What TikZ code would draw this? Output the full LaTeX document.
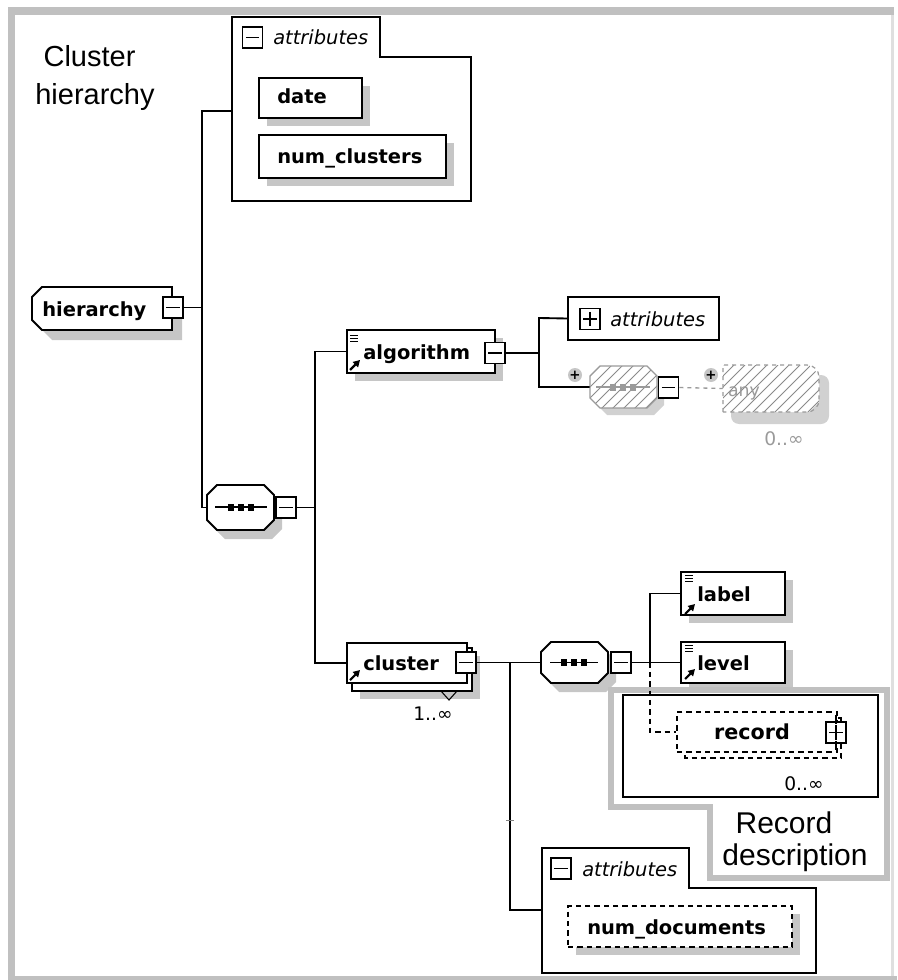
\documentclass[tikz,border=0pt]{standalone}
\usepackage{fontspec}
\setmainfont{DejaVu Sans}
\newfontfamily\arialf{Liberation Sans}
\usetikzlibrary{shadows,arrows.meta}
\definecolor{framegray}{HTML}{C0C0C0}
\definecolor{shadowgray}{HTML}{C6C6C6}
\definecolor{hatchgray}{HTML}{8A8A8A}
\definecolor{fadegray}{HTML}{9A9A9A}
\newcommand\seqicon[4]{%
  \draw[#4, line width=1pt] (#1,#3) -- (#2,#3);
  \foreach \q in {-10,0,10} \fill[#4] ({(#1+#2)/2+\q-3},{#3-3.5}) rectangle ++(6,7);}
\newcommand\eqlines[2]{\foreach \q in {0,3,6} \draw[line width=0.7pt] (#1,{#2+\q}) -- ++(8,0);}
\newcommand\refarrow[2]{\draw[line width=1.6pt,-{Triangle[length=5pt,width=5.5pt]}] (#1,#2) -- ++(10,-10);}
% octagon (chamfered) outline: x1 x2 y1 y2 options
\newcommand\octo[5]{\path[#5] ({#1+10},#3) -- ({#2-10},#3) -- (#2,{#3+10}) -- (#2,{#4-10}) -- ({#2-10},#4) -- ({#1+10},#4) -- (#1,{#4-10}) -- (#1,{#3+10}) -- cycle;}
\tikzset{
  conn/.style={line width=1.4pt},
  box/.style={draw, line width=1.4pt, fill=white, inner sep=0pt},
  shad/.style={drop shadow={shadow xshift=6pt, shadow yshift=-6pt, fill=shadowgray, opacity=1}},
  anchorbox/.style={inner sep=0pt},
  mbox/.style={draw, line width=1.2pt, fill=white, inner sep=0pt, minimum width=15pt, minimum height=15.75pt,
    path picture={\draw[line width=1pt] ([xshift=2.5pt]path picture bounding box.west) -- ([xshift=-2.5pt]path picture bounding box.east);}},
  pbox/.style={mbox, path picture={\draw[line width=1pt] ([xshift=2.5pt]path picture bounding box.west) -- ([xshift=-2.5pt]path picture bounding box.east);
    \draw[line width=1pt] ([yshift=-2.5pt]path picture bounding box.north) -- ([yshift=2.5pt]path picture bounding box.south);}},
  lbl/.style={font=\bfseries\fontsize{14.6}{16}\selectfont, inner sep=0pt, anchor=base west},
  itl/.style={font=\itshape\fontsize{14.6}{16}\selectfont, inner sep=0pt, anchor=base west},
  ttl/.style={font=\arialf\fontsize{21.75}{26}\selectfont, inner sep=0pt, anchor=base},
  rdesc/.style={font=\arialf\fontsize{22.5}{26}\selectfont, inner sep=0pt, anchor=base},
  mult/.style={font=\fontsize{14}{16}\selectfont, inner sep=0pt, anchor=base},
  pcirc/.style={circle, fill=shadowgray, inner sep=0pt, minimum size=10.5pt, font=\bfseries\fontsize{10}{10}\selectfont},
}
\begin{document}
\begin{tikzpicture}[x=0.75pt,y=-0.75pt]
\useasboundingbox (0,0) rectangle (897,980);
% outer frame
\fill[framegray] (8,7) rectangle (15,980);
\fill[framegray] (8,7) rectangle (894,15);
\fill[framegray] (8,976) rectangle (897,980);
\fill[framegray!50] (891,15) rectangle (894,976);

% title
\node[ttl] (t1) at (89.5,67) {Cluster};
\node[ttl] (t2) at (95,105) {hierarchy};

% top attributes group
\draw[box] (232,17) -- (380,17) -- (380,57) -- (471,57) -- (471,201) -- (232,201) -- cycle;
\coordinate (attrA) at (232,111);
\node[mbox] (attrAm) at (252.5,37.5) {};
\node[itl] (attrAt) at (273,45) {attributes};
\node[box, shad, minimum width=77.25pt, minimum height=30pt] (date) at (310.5,98) {};
\node[lbl] (datet) at (277,104) {date};
\node[box, shad, minimum width=140.25pt, minimum height=32.25pt] (numcl) at (352.5,156.5) {};
\node[lbl] (numclt) at (277,164) {num\_clusters};

% hierarchy (left corners chamfered)
\node[anchorbox, minimum width=105pt, minimum height=32.25pt] (hier) at (102,308.5) {};
\fill[shadowgray, shift={(10,10)}] (42,287) -- (172,287) -- (172,330) -- (42,330) -- (32,320) -- (32,297) -- cycle;
\draw[line width=1.4pt, fill=white] (42,287) -- (172,287) -- (172,330) -- (42,330) -- (32,320) -- (32,297) -- cycle;
\node[lbl] (hiert) at (42,316) {hierarchy};
\node[mbox] (hierm) at (173,307.5) {};

% sequence 1
\node[anchorbox, minimum width=50.25pt, minimum height=33.75pt] (seq1) at (240.5,507.5) {};
\octo{207}{274}{485}{530}{fill=shadowgray, shift={(8,9)}}
\octo{207}{274}{485}{530}{draw, line width=1.4pt, fill=white}
\seqicon{215}{267}{507}{black}
\node[mbox] (seq1m) at (286,507.5) {};

\coordinate (busA) at (202,111);
\draw[conn] (attrA) -- (busA) -- (busA |- seq1.west) -- (seq1.west);
\draw[conn] (hierm.east) -- (hierm.east -| busA);

% algorithm
\node[box, shad, minimum width=111pt, minimum height=32.25pt] (alg) at (421,351.5) {};
\eqlines{350}{335}
\refarrow{350}{370}
\node[lbl] (algt) at (363,359) {algorithm};
\node[mbox] (algm) at (495,353) {};

% attributes (collapsed)
\node[box, minimum width=113.25pt, minimum height=32.25pt] (attr2) at (643.5,318.5) {};
\node[pbox] (attr2p) at (590,319) {};
\node[itl] (attr2t) at (610,326) {attributes};

% hatched sequence
\node[anchorbox, minimum width=50.25pt, minimum height=31.5pt] (seq2) at (623.5,387) {};
\octo{590}{657}{366}{408}{fill=shadowgray!80, shift={(7,7)}}
\octo{590}{657}{366}{408}{fill=white}
\begin{scope}
\octo{590}{657}{366}{408}{clip}
\foreach \k in {0,...,11} \draw[hatchgray, line width=0.6pt] ({540+\k*11},415) -- ++(50,-50);
\end{scope}
\octo{590}{657}{366}{408}{draw=fadegray, line width=0.9pt}
\seqicon{596}{650}{387}{fadegray}
\node[mbox] (seq2m) at (668.5,387.5) {};
\node[pcirc] (pc1) at (575,375) {+};

% any
\node[anchorbox, minimum width=72pt, minimum height=35.25pt] (any) at (771,388.5) {};
\fill[shadowgray!80, rounded corners=6pt] (731,375) -- (829,375) -- (829,424) -- (731,424) -- cycle;
\fill[white] (723,365) -- (809,365) -- (819,375) -- (819,402) -- (809,412) -- (723,412) -- cycle;
\begin{scope}
\clip (723,365) -- (809,365) -- (819,375) -- (819,402) -- (809,412) -- (723,412) -- cycle;
\foreach \k in {0,...,13} \draw[hatchgray, line width=0.6pt] ({673+\k*11},415) -- ++(50,-50);
\end{scope}
\draw[fadegray, line width=0.9pt, dashed] (723,412) -- (723,365) [rounded corners=9pt] -- (819,365) -- (819,412) [sharp corners] -- cycle;
\node[font=\fontsize{13}{15}\selectfont, text=fadegray, inner sep=0pt, anchor=base] (anyt) at (744,396) {any};
\node[mult, text=fadegray] (anymult) at (784,445) {0..∞};
\node[pcirc] (pc2) at (711,375) {+};

\coordinate (busC) at (539,318);
\draw[conn] (algm.east) -- (algm.east -| busC);
\draw[conn] (attr2.west) -- (busC) -- (busC |- seq2.west) -- (seq2.west);
\draw[fadegray, line width=1pt, dashed] (seq2m.east) -- (any.west);

% cluster
\node[box, shad, minimum width=90pt, minimum height=32.25pt] (clback) at (412,669.5) {};
\node[box, minimum width=90pt, minimum height=30pt] (cluster) at (407,663) {};
\refarrow{350}{680}
\node[lbl] (clt) at (363,670) {cluster};
\node[mbox] (clm) at (466,662.5) {};
\draw[line width=0.8pt] (441,691) -- (449,700) -- (457,691);
\node[mult] (clmult) at (433,720) {1..∞};

\coordinate (busB) at (315,352);
\draw[conn] (seq1m.east) -- (seq1m.east -| busB);
\draw[conn] (alg.west) -- (alg.west -| busB) -- (cluster.west -| busB) -- (cluster.west);

% sequence 3
\node[anchorbox, minimum width=50.25pt, minimum height=30.75pt] (seq3) at (574.5,662.5) {};
\octo{541}{608}{642}{683}{fill=shadowgray, shift={(8,9)}}
\octo{541}{608}{642}{683}{draw, line width=1.4pt, fill=white}
\seqicon{550}{598}{662.5}{black}
\node[mbox] (seq3m) at (621,662.5) {};
\draw[conn] (clm.east) -- (seq3.west);
\coordinate (busD) at (510,662.5);
\coordinate (attrC) at (542,910);
\draw[conn] (busD) -- (busD |- attrC) -- (attrC);
\draw[line width=0.6pt, gray] (506,820) -- (514,820);

% label / level
\node[box, shad, minimum width=78pt, minimum height=32.25pt] (label) at (733,593.5) {};
\eqlines{685}{575}
\refarrow{685}{614}
\node[lbl] (labelt) at (697,601) {label};
\node[box, shad, minimum width=78pt, minimum height=30.75pt] (level) at (733,662.5) {};
\eqlines{685}{645}
\refarrow{685}{679}
\node[lbl] (levelt) at (697,670) {level};

% record description frame
\draw[framegray, line width=4.5pt] (611,690) -- (887,690) -- (887,878) -- (710,878) -- (710,807) -- (611,807) -- cycle;
\node[box, minimum width=191.25pt, minimum height=76.5pt] (recbox) at (750.5,746) {};
\draw[line width=1.1pt, dash pattern=on 4pt off 3pt] (685,718) rectangle (841,758);
\node[draw, fill=white, line width=1.1pt, dash pattern=on 4pt off 3pt, inner sep=0pt, minimum width=120pt, minimum height=30pt] (record) at (757,732) {};
\node[font=\bfseries\fontsize{15.5}{17}\selectfont, inner sep=0pt, anchor=base] (rect) at (752,739) {record};
\node[pbox] (recp) at (836,732.5) {};
\draw[line width=1pt] (836,715) -- (836,724) (836,741) -- (836,750);
\node[mult] (recmult) at (804,790) {0..∞};
\node[rdesc] (rd1) at (784,833) {Record};
\node[rdesc] (rd2) at (795,865) {description};

\coordinate (busE) at (650,593.5);
\draw[conn] (seq3m.east) -- (level.west);
\draw[conn] (label.west) -- (busE) -- (busE |- level.west);
\draw[conn, dash pattern=on 4pt off 3pt] (busE |- level.west) -- (busE |- record.west) -- (record.west);

% bottom attributes group
\draw[box] (542,848) -- (689,848) -- (689,888) -- (816,888) -- (816,973) -- (542,973) -- cycle;
\node[mbox] (attrCm) at (561,868.5) {};
\node[itl] (attrCt) at (582,876) {attributes};
\node[box, shad, dash pattern=on 4pt off 3pt, minimum width=168pt, minimum height=30.75pt] (numdoc) at (680,926.5) {};
\node[lbl] (numdoct) at (587,934) {num\_documents};
\end{tikzpicture}
\end{document}
